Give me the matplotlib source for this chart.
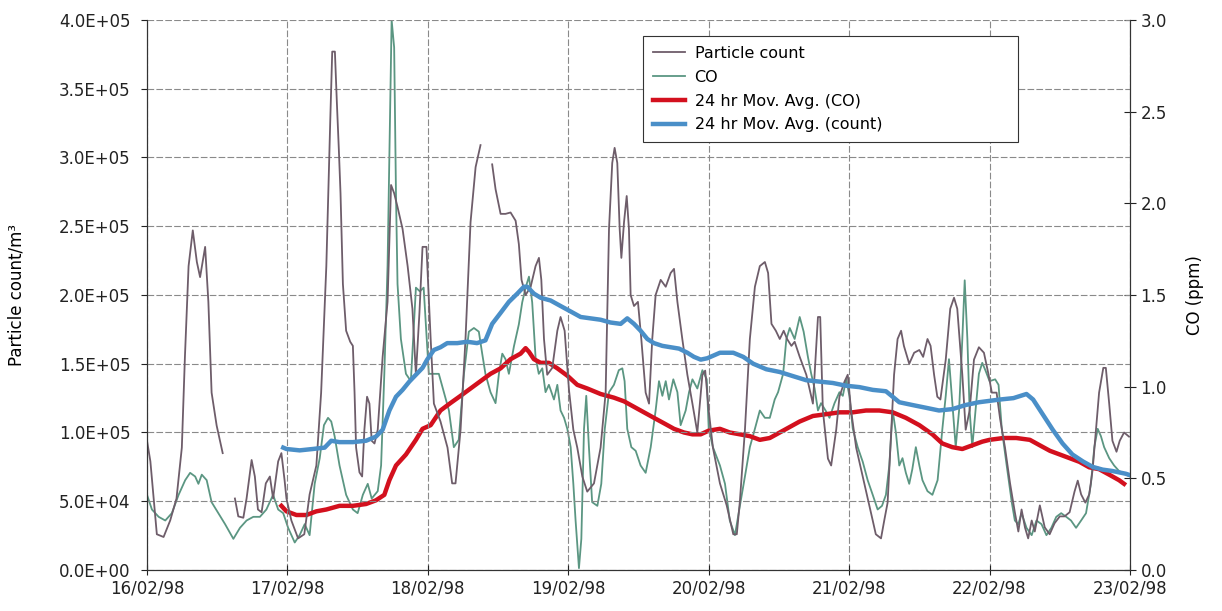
import numpy as np
import matplotlib
matplotlib.use("Agg")
import matplotlib.pyplot as plt

nan = np.nan

# time in days from 16/02/98 00:00
count_t = [0.0, 0.024, 0.07, 0.118, 0.165, 0.21, 0.248, 0.27, 0.296, 0.326,
           0.355, 0.378, 0.414, 0.437, 0.46, 0.496, 0.539, 0.58,
           0.626, 0.65, 0.686, 0.709, 0.745, 0.768, 0.79, 0.816, 0.846, 0.875,
           0.898, 0.934, 0.957, 0.98, 0.993, 1.028, 1.076, 1.12, 1.158, 1.206,
           1.24, 1.277, 1.305, 1.319, 1.338, 1.352, 1.366, 1.378, 1.395, 1.418,
           1.447, 1.466, 1.478, 1.489, 1.513, 1.532, 1.548, 1.567, 1.584, 1.6,
           1.62, 1.643, 1.678, 1.713, 1.738, 1.76, 1.784, 1.82, 1.856, 1.89,
           1.915, 1.94, 1.962, 1.99, 2.02, 2.043, 2.09, 2.14, 2.173, 2.197,
           2.233, 2.268, 2.304, 2.34, 2.375, 2.42,
           2.458, 2.482, 2.518, 2.553, 2.589, 2.625, 2.648, 2.667, 2.696, 2.732,
           2.767, 2.791, 2.808, 2.827, 2.85, 2.886, 2.922, 2.945, 2.974, 3.005,
           3.036, 3.064, 3.1, 3.135, 3.183, 3.23, 3.266, 3.29, 3.313, 3.33,
           3.349, 3.366, 3.378, 3.397, 3.416, 3.432, 3.444, 3.468, 3.496, 3.52,
           3.551, 3.575, 3.598, 3.622, 3.658, 3.694, 3.729, 3.753, 3.777, 3.812,
           3.848, 3.884, 3.919, 3.955, 3.975,
           4.0, 4.03, 4.08, 4.128, 4.175, 4.2, 4.222, 4.258, 4.293, 4.329,
           4.364, 4.4, 4.423, 4.447, 4.478, 4.506, 4.534, 4.558, 4.589, 4.612,
           4.648, 4.695, 4.742, 4.778, 4.794, 4.813, 4.849, 4.872, 4.908, 4.931,
           4.967, 4.99, 5.014, 5.05, 5.097, 5.132, 5.168, 5.19, 5.227, 5.25,
           5.274, 5.3, 5.32, 5.345, 5.37, 5.39, 5.428, 5.463, 5.5, 5.527,
           5.558, 5.58, 5.605, 5.628, 5.65, 5.688, 5.72, 5.747, 5.77, 5.806,
           5.83, 5.858, 5.889, 5.924, 5.96,
           5.993, 6.016, 6.05, 6.075, 6.11, 6.146, 6.18, 6.205, 6.228, 6.252,
           6.275, 6.3, 6.322, 6.358, 6.393, 6.428, 6.463, 6.5, 6.534, 6.57,
           6.605, 6.628, 6.652, 6.682, 6.71, 6.734, 6.758, 6.78, 6.81, 6.828,
           6.852, 6.875, 6.904, 6.927, 6.958, 6.993]
count_k = [94, 79, 26, 24, 36, 52, 89, 155, 221, 247,
           224, 213, 235, 195, 129, 105, 85, nan,
           52, 39, 38, 52, 80, 68, 44, 42, 63, 68,
           52, 79, 85, 65, 52, 36, 23, 26, 55, 76,
           129, 221, 327, 377, 377, 340, 306, 274, 208, 174,
           166, 163, 129, 89, 71, 68, 102, 126, 121, 94,
           92, 102, 155, 195, 280, 274, 264, 248, 221, 190,
           142, 187, 235, 235, 168, 121, 108, 89, 63, 63,
           102, 168, 253, 293, 309, nan,
           295, 277, 259, 259, 260, 254, 237, 211, 200, 206,
           221, 227, 211, 168, 142, 147, 174, 184, 174, 131,
           102, 89, 68, 57, 63, 89, 129, 248, 296, 307,
           296, 248, 227, 253, 272, 248, 200, 192, 195, 168,
           129, 121, 168, 200, 211, 206, 216, 219, 195, 168,
           142, 121, 100, 142, 145,
           116, 89, 63, 47, 26, 26, 50, 102, 168, 206,
           221, 224, 216, 179, 174, 168, 174, 168, 163, 166,
           155, 142, 121, 184, 184, 116, 81, 76, 102, 126,
           137, 142, 116, 89, 68, 52, 36, 26, 23, 36,
           49, 102, 142, 168, 174, 163, 150, 158, 160, 155,
           168, 163, 142, 126, 124, 153, 190, 198, 190, 142,
           102, 116, 153, 162, 158,
           142, 129, 129, 110, 89, 63, 42, 28, 44, 31,
           23, 36, 28, 47, 31, 26, 34, 39, 39, 42,
           57, 65, 55, 49, 55, 73, 102, 129, 147, 147,
           121, 94, 86, 94, 100, 97]

co_t = [0.0, 0.035, 0.083, 0.13, 0.177, 0.225, 0.272, 0.307, 0.343, 0.366,
        0.39, 0.425, 0.46, 0.508, 0.556, 0.615, 0.662, 0.709, 0.757, 0.804,
        0.85, 0.898, 0.934, 0.97, 1.005, 1.052, 1.087, 1.123, 1.158, 1.194,
        1.23, 1.26, 1.289, 1.312, 1.336, 1.371, 1.418, 1.466, 1.5, 1.537,
        1.572, 1.6, 1.643, 1.667, 1.69, 1.713, 1.73, 1.742, 1.76, 1.773,
        1.784, 1.808, 1.844, 1.879, 1.915, 1.943,
        1.97, 2.007, 2.043, 2.078, 2.114, 2.15, 2.185, 2.22, 2.257, 2.292,
        2.328, 2.363, 2.387, 2.41, 2.446, 2.482, 2.506, 2.53, 2.553, 2.577,
        2.613, 2.648, 2.672, 2.696, 2.72, 2.743, 2.767, 2.79, 2.815, 2.838,
        2.862, 2.898, 2.922, 2.945, 2.97, 2.993, 3.017, 3.036, 3.052, 3.076,
        3.093, 3.112, 3.128, 3.147, 3.17, 3.207, 3.235, 3.26, 3.29, 3.325,
        3.36, 3.385, 3.401, 3.42, 3.449, 3.48, 3.515, 3.551, 3.587, 3.622,
        3.646, 3.67, 3.694, 3.717, 3.748, 3.777, 3.8, 3.836, 3.86, 3.884,
        3.919, 3.955, 3.986,
        4.0, 4.03, 4.08, 4.116, 4.15, 4.187, 4.222, 4.258, 4.293, 4.329,
        4.364, 4.4, 4.435, 4.47, 4.494, 4.53, 4.553, 4.577, 4.612, 4.648,
        4.676, 4.707, 4.73, 4.754, 4.778, 4.8, 4.832, 4.86, 4.896, 4.931,
        4.955, 4.979, 5.002, 5.026, 5.061, 5.097, 5.132, 5.168, 5.203, 5.234,
        5.262, 5.286, 5.31, 5.333, 5.357, 5.38, 5.404, 5.428, 5.45, 5.475,
        5.5, 5.522, 5.558, 5.593, 5.63, 5.664, 5.688, 5.711, 5.735, 5.759,
        5.783, 5.806, 5.823, 5.842, 5.858, 5.877, 5.9, 5.924, 5.948, 5.97,
        6.0, 6.04, 6.064, 6.087, 6.122, 6.158, 6.18, 6.205, 6.228, 6.263,
        6.3, 6.334, 6.37, 6.405, 6.44, 6.475, 6.51, 6.546, 6.58, 6.616,
        6.652, 6.687, 6.722, 6.746, 6.77, 6.793, 6.816, 6.852, 6.887, 6.922,
        6.97, 7.0]
co_ppm = [0.41, 0.33, 0.29, 0.27, 0.31, 0.41, 0.49, 0.53, 0.51, 0.47,
          0.52, 0.49, 0.37, 0.31, 0.25, 0.17, 0.23, 0.27, 0.29, 0.29,
          0.33, 0.41, 0.33, 0.31, 0.23, 0.15, 0.19, 0.25, 0.19, 0.47,
          0.61, 0.79, 0.83, 0.81, 0.73, 0.57, 0.41, 0.33, 0.31, 0.41,
          0.47, 0.39, 0.43, 0.57, 1.07, 1.66, 2.45, 3.0, 2.85, 2.05,
          1.56, 1.26, 1.07, 1.03, 1.54, 1.52,
          1.54, 1.07, 1.07, 1.07, 0.97, 0.87, 0.67, 0.71, 1.07, 1.30,
          1.32, 1.30, 1.18, 1.07, 0.97, 0.91, 1.07, 1.18, 1.15, 1.07,
          1.22, 1.34, 1.46, 1.54, 1.60, 1.46, 1.16, 1.07, 1.10, 0.97,
          1.01, 0.93, 1.01, 0.87, 0.83, 0.77, 0.67, 0.47, 0.27, 0.01,
          0.17, 0.77, 0.95, 0.67, 0.37, 0.35, 0.47, 0.77, 0.97, 1.01,
          1.09, 1.10, 1.03, 0.77, 0.67, 0.65, 0.57, 0.53, 0.67, 0.87,
          1.03, 0.95, 1.03, 0.93, 1.04, 0.97, 0.79, 0.87, 0.97, 1.04,
          0.99, 1.09, 1.04,
          0.77, 0.67, 0.57, 0.47, 0.27, 0.19, 0.35, 0.51, 0.67, 0.77,
          0.87, 0.83, 0.83, 0.93, 0.97, 1.07, 1.26, 1.32, 1.26, 1.38,
          1.30, 1.16, 1.07, 0.99, 0.87, 0.91, 0.87, 0.83, 0.91, 0.97,
          0.95, 1.04, 0.95, 0.77, 0.67, 0.59, 0.49, 0.41, 0.33, 0.35,
          0.41, 0.57, 0.87, 0.75, 0.57, 0.61, 0.53, 0.47, 0.55, 0.67,
          0.57, 0.49, 0.43, 0.41, 0.49, 0.77, 0.95, 1.15, 0.91, 0.67,
          0.87, 1.26, 1.58, 1.26, 0.87, 0.67, 0.87, 1.07, 1.13, 1.09,
          1.03, 1.04, 1.01, 0.77, 0.57, 0.37, 0.27, 0.25, 0.31, 0.23,
          0.19, 0.27, 0.25, 0.19, 0.23, 0.29, 0.31, 0.29, 0.27, 0.23,
          0.27, 0.31, 0.47, 0.67, 0.77, 0.73, 0.67, 0.61, 0.57, 0.54,
          0.52, 0.51]

avg_count_t = [0.97, 0.993, 1.087, 1.18, 1.265, 1.312, 1.37, 1.466, 1.56, 1.63,
               1.678, 1.726, 1.773, 1.82, 1.868, 1.915, 1.962, 1.995, 2.043, 2.09,
               2.138, 2.21, 2.28, 2.35, 2.41, 2.458, 2.518, 2.577, 2.637, 2.684,
               2.708, 2.755, 2.803, 2.874, 2.945, 3.017, 3.088, 3.159, 3.23, 3.3,
               3.373, 3.42, 3.468, 3.515, 3.563, 3.61, 3.67, 3.729, 3.789, 3.848,
               3.895, 3.943, 3.99, 4.08, 4.175, 4.246, 4.317, 4.41, 4.506, 4.6,
               4.695, 4.79, 4.884, 4.979, 5.073, 5.168, 5.262, 5.31, 5.357, 5.45,
               5.546, 5.64, 5.735, 5.83, 5.924, 6.0, 6.075, 6.17, 6.263, 6.31,
               6.38, 6.45, 6.52, 6.59, 6.664, 6.734, 6.805, 6.875, 6.97, 7.0]
avg_count_k = [89, 88, 87, 88, 89, 94, 93, 93, 94, 97,
               102, 116, 126, 131, 137, 142, 147, 153, 160, 162,
               165, 165, 166, 165, 167, 179, 187, 195, 201, 206,
               206, 201, 198, 196, 192, 188, 184, 183, 182, 180,
               179, 183, 179, 174, 168, 165, 163, 162, 161, 158,
               155, 153, 154, 158, 158, 155, 150, 146, 144, 141,
               138, 137, 136, 134, 133, 131, 130, 126, 122, 120,
               118, 116, 117, 120, 122, 123, 124, 125, 128, 124,
               113, 102, 92, 84, 79, 75, 73, 72, 70, 69]

avg_co_t = [0.957, 0.993, 1.064, 1.135, 1.206, 1.277, 1.371, 1.466, 1.56, 1.63,
            1.69, 1.726, 1.773, 1.844, 1.915, 1.962, 2.02, 2.09, 2.16, 2.233,
            2.304, 2.375, 2.446, 2.518, 2.589, 2.66, 2.696, 2.72, 2.755, 2.803,
            2.862, 2.922, 2.993, 3.064, 3.135, 3.23, 3.325, 3.397, 3.468, 3.539,
            3.61, 3.682, 3.753, 3.824, 3.884, 3.943, 4.0, 4.08, 4.15, 4.222,
            4.293, 4.364, 4.435, 4.506, 4.577, 4.648, 4.742, 4.837, 4.931, 5.026,
            5.12, 5.215, 5.31, 5.404, 5.5, 5.593, 5.664, 5.735, 5.806, 5.877,
            5.948, 6.0, 6.1, 6.19, 6.287, 6.358, 6.43, 6.5, 6.57, 6.64,
            6.71, 6.78, 6.852, 6.922, 6.958]
avg_co_ppm = [0.35, 0.32, 0.30, 0.30, 0.32, 0.33, 0.35, 0.35, 0.36, 0.38,
              0.41, 0.49, 0.57, 0.63, 0.71, 0.77, 0.79, 0.87, 0.91, 0.95,
              0.99, 1.03, 1.07, 1.10, 1.15, 1.18, 1.21, 1.19, 1.15, 1.13,
              1.13, 1.10, 1.06, 1.01, 0.99, 0.96, 0.94, 0.92, 0.89, 0.86,
              0.83, 0.80, 0.77, 0.75, 0.74, 0.74, 0.76, 0.77, 0.75, 0.74,
              0.73, 0.71, 0.72, 0.75, 0.78, 0.81, 0.84, 0.85, 0.86, 0.86,
              0.87, 0.87, 0.86, 0.83, 0.79, 0.74, 0.69, 0.67, 0.66, 0.68,
              0.70, 0.71, 0.72, 0.72, 0.71, 0.68, 0.65, 0.63, 0.61, 0.59,
              0.56, 0.55, 0.52, 0.49, 0.47]

day_labels = ["16/02/98", "17/02/98", "18/02/98", "19/02/98",
              "20/02/98", "21/02/98", "22/02/98", "23/02/98"]
left_ticks = [0, 5e4, 1e5, 1.5e5, 2e5, 2.5e5, 3e5, 3.5e5, 4e5]
right_ticks = [0.0, 0.5, 1.0, 1.5, 2.0, 2.5, 3.0]

c_count = "#6e5d6a"
c_co = "#5b9682"
c_red = "#d3101e"
c_blue = "#4a8fc8"

fig = plt.figure(figsize=(12.22, 6.11), dpi=100)
ax = fig.add_axes([0.1203, 0.0671, 0.8044, 0.9002])
ax2 = ax.twinx()

l1, = ax.plot(count_t, np.array(count_k) * 1000, color=c_count, lw=1.3)
l4, = ax.plot(avg_count_t, np.array(avg_count_k) * 1000, color=c_blue, lw=3.2)
l2, = ax2.plot(co_t, co_ppm, color=c_co, lw=1.3)
l3, = ax2.plot(avg_co_t, avg_co_ppm, color=c_red, lw=3.2)
ax.set_zorder(ax2.get_zorder() + 1)
ax.patch.set_visible(False)

ax.set_xlim(0, 7)
ax.set_ylim(0, 4e5)
ax2.set_ylim(0, 3.0)
ax.set_xticks(range(8))
ax.set_xticklabels(day_labels)
ax.set_yticks(left_ticks)
ax.set_yticklabels([f"{v:.1E}" for v in left_ticks])
ax2.set_yticks(right_ticks)
ax2.set_yticklabels([f"{v:.1f}" for v in right_ticks])

ax.grid(True, color="#8a8a8a", ls=(0, (6, 2)), lw=0.8)
for a in (ax, ax2):
    a.spines["top"].set_visible(False)
    for s in a.spines.values():
        s.set_color("#333333")
ax.tick_params(axis="y", direction="out", length=4, pad=8, labelsize=12, colors="#222222")
ax.tick_params(axis="x", direction="inout", length=7, labelsize=12, colors="#222222")
ax2.tick_params(axis="y", direction="inout", length=8, labelsize=12, colors="#222222")

ax.set_ylabel("Particle count/m³", fontsize=12, labelpad=24)
ax2.set_ylabel("CO (ppm)", fontsize=12, labelpad=14)

leg = ax.legend([l1, l2, l3, l4],
                ["Particle count", "CO", "24 hr Mov. Avg. (CO)", "24 hr Mov. Avg. (count)"],
                loc="upper left", bbox_to_anchor=(0.505, 0.77, 0.381, 0.2),
                mode="expand", borderaxespad=0, fontsize=11.5, frameon=True,
                fancybox=False, edgecolor="#333333", framealpha=1,
                handlelength=2.0, handletextpad=0.6,
                borderpad=0.6, labelspacing=0.55)
leg.get_frame().set_linewidth(0.8)

fig.savefig("out.png", dpi=100)
